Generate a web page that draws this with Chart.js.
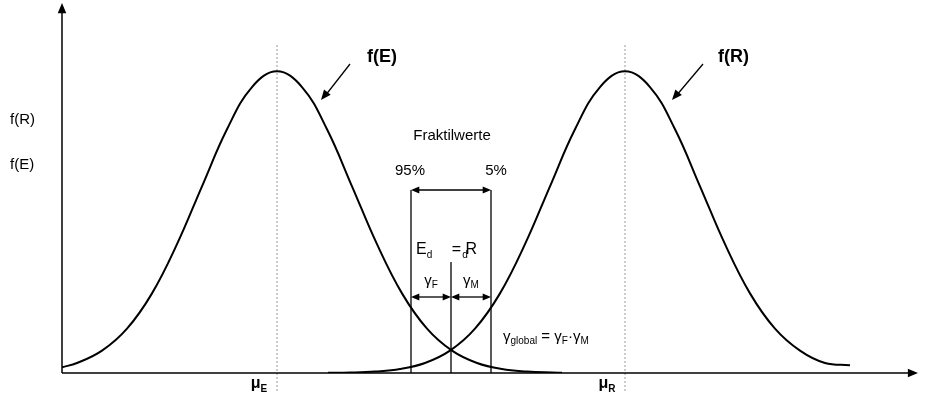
<!DOCTYPE html>
<html><head><meta charset="utf-8">
<script src="https://cdn.jsdelivr.net/npm/chart.js@4"></script>
<style>html,body{margin:0;padding:0;background:#fff}#w{width:930px;height:403px}</style>
</head><body><div id="w"><canvas id="c"></canvas></div>
<script>
// Schematic density values, x in axis units, y in % of peak
const xE = [0,15,40,65,90,115,140,165,190,215,240,265,290,315,340,365,390,415,440,465,490,500];
const yE = [1.9,3.3,7.4,14.7,26.4,42.7,61.9,80.8,94.8,100,94.8,80.8,61.9,42.7,26.4,14.7,7.4,3.3,1.3,0.5,0.16,0.1];
const xR = [266,288,313,338,363,388,413,438,463,488,513,538,563,588,613,638,663,688,713,738,763,788];
const yR = [0.05,0.16,0.5,1.3,3.3,7.4,14.7,26.4,42.7,61.9,80.8,94.8,100,94.8,80.8,61.9,42.7,26.4,14.7,7.4,3.3,2.6];
const muE = 215, muR = 563;
const q95 = 349, qd = 389, q5 = 429;

const pts = (xs, ys) => xs.map((x, i) => ({x, y: ys[i]}));
const F = '"Liberation Sans", Arial, sans-serif';

function arrowHead(ctx, x1, y1, x2, y2, s) {
  const a = Math.atan2(y2 - y1, x2 - x1);
  ctx.beginPath();
  ctx.moveTo(x2, y2);
  ctx.lineTo(x2 - s * Math.cos(a - 0.4), y2 - s * Math.sin(a - 0.4));
  ctx.lineTo(x2 - s * Math.cos(a + 0.4), y2 - s * Math.sin(a + 0.4));
  ctx.closePath(); ctx.fill();
}
function line(ctx, x1, y1, x2, y2) { ctx.beginPath(); ctx.moveTo(x1, y1); ctx.lineTo(x2, y2); ctx.stroke(); }
function dbl(ctx, x1, x2, y) { line(ctx, x1 + 4, y, x2 - 4, y); arrowHead(ctx, x2, y, x1, y, 9); arrowHead(ctx, x1, y, x2, y, 9); }
function sub(ctx, main, s, x, y, size, bold, align) {
  const f1 = (bold ? 'bold ' : '') + size + 'px ' + F, f2 = (bold ? 'bold ' : '') + Math.round(size * 0.65) + 'px ' + F;
  ctx.font = f1; const w1 = ctx.measureText(main).width;
  ctx.font = f2; const w2 = ctx.measureText(s).width;
  let x0 = align === 'center' ? x - (w1 + w2) / 2 : x;
  ctx.textAlign = 'left';
  ctx.font = f1; ctx.fillText(main, x0, y);
  ctx.font = f2; ctx.fillText(s, x0 + w1, y + size * 0.3);
  return x0 + w1 + w2;
}

const deco = {
  id: 'deco',
  beforeDatasetsDraw(chart) {
    const ctx = chart.ctx, X = chart.scales.x, Y = chart.scales.y;
    ctx.save();
    ctx.strokeStyle = '#999'; ctx.lineWidth = 1; ctx.setLineDash([2, 2]);
    [muE, muR].forEach(m => line(ctx, X.getPixelForValue(m), 45, X.getPixelForValue(m), 392));
    ctx.restore();
  },
  afterDraw(chart) {
    const ctx = chart.ctx, X = chart.scales.x, Y = chart.scales.y;
    const b = Y.getPixelForValue(0), l = X.getPixelForValue(0);
    ctx.save();
    ctx.strokeStyle = '#000'; ctx.fillStyle = '#000'; ctx.lineWidth = 1.5;
    line(ctx, l, b, 912, b); arrowHead(ctx, l, b, 918, b, 11);
    line(ctx, l, b, l, 10); arrowHead(ctx, l, b, l, 3, 11);
    ctx.lineWidth = 1.3;
    const p95 = X.getPixelForValue(q95), pd = X.getPixelForValue(qd), p5 = X.getPixelForValue(q5);
    line(ctx, p95, 190, p95, b); line(ctx, p5, 190, p5, b); line(ctx, pd, 262, pd, b);
    dbl(ctx, p95, p5, 190); dbl(ctx, p95, pd, 297); dbl(ctx, pd, p5, 297);
    line(ctx, 350, 64, 325, 96); arrowHead(ctx, 350, 64, 321, 100, 11);
    line(ctx, 703, 64, 676, 96); arrowHead(ctx, 703, 64, 672, 100, 11);
    ctx.textBaseline = 'middle';
    ctx.font = 'bold 18px ' + F; ctx.textAlign = 'left';
    ctx.fillText('f(E)', 367, 57); ctx.fillText('f(R)', 718, 57);
    ctx.font = '15px ' + F;
    ctx.fillText('f(R)', 10, 120); ctx.fillText('f(E)', 10, 165);
    ctx.textAlign = 'center';
    ctx.fillText('Fraktilwerte', 452, 136);
    ctx.fillText('95%', 410, 171); ctx.fillText('5%', 496, 171);
    const e = sub(ctx, 'E', 'd', 416, 250, 16, false, 'left');
    ctx.font = '16px ' + F; ctx.fillText(' = R', e + 15, 250);
    sub(ctx, '', 'd', e + 30, 250, 16, false, 'left');
    sub(ctx, 'γ', 'F', 431, 281, 15, false, 'center');
    sub(ctx, 'γ', 'M', 471, 281, 15, false, 'center');
    let x = sub(ctx, 'γ', 'global', 503, 337, 15, false, 'left');
    ctx.font = '15px ' + F; ctx.textAlign = 'left'; ctx.fillText(' = ', x, 337);
    x += ctx.measureText(' = ').width;
    x = sub(ctx, 'γ', 'F', x, 337, 15, false, 'left');
    ctx.font = '15px ' + F; ctx.textAlign = 'left'; ctx.fillText('·', x, 337); x += ctx.measureText('·').width;
    sub(ctx, 'γ', 'M', x, 337, 15, false, 'left');
    sub(ctx, 'μ', 'E', X.getPixelForValue(muE) - 18, 384, 16, true, 'center');
    sub(ctx, 'μ', 'R', X.getPixelForValue(muR) - 18, 384, 16, true, 'center');
    ctx.restore();
  }
};

new Chart(document.getElementById('c'), {
  type: 'line',
  data: { datasets: [
    { data: pts(xE, yE), borderColor: '#000', borderWidth: 2, pointRadius: 0, tension: 0.4, fill: false },
    { data: pts(xR, yR), borderColor: '#000', borderWidth: 2, pointRadius: 0, tension: 0.4, fill: false }
  ]},
  options: {
    responsive: true, maintainAspectRatio: false, animation: false,
    layout: { padding: { left: 62, right: 15, top: 5, bottom: 30 } },
    plugins: { legend: { display: false }, tooltip: { enabled: false } },
    scales: {
      x: { type: 'linear', min: 0, max: 853, display: false },
      y: { min: 0, max: 122, display: false }
    }
  },
  plugins: [deco]
});
</script></body></html>
